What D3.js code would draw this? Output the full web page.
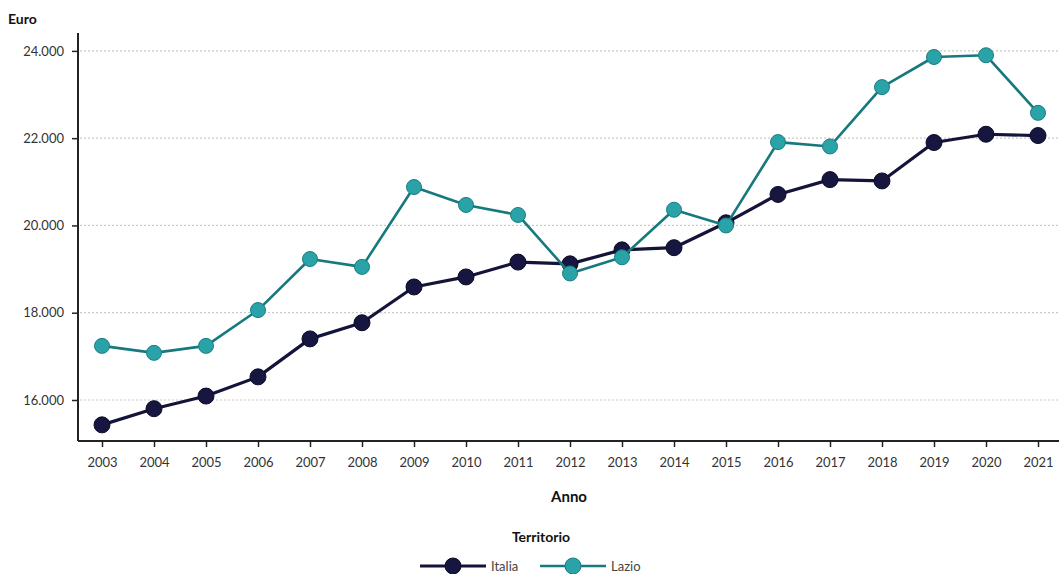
<!DOCTYPE html>
<html>
<head>
<meta charset="utf-8">
<script src="https://cdn.jsdelivr.net/npm/d3@7"></script>
<style>
  html, body { margin: 0; padding: 0; background: #ffffff; }
  svg { display: block; font-family: "Lato", "Open Sans", sans-serif; }
</style>
</head>
<body>
<svg id="chart" width="1059" height="574"></svg>
<script>
// Reddito medio per anno: Italia e Lazio (euro)
const years = [2003, 2004, 2005, 2006, 2007, 2008, 2009, 2010, 2011, 2012,
               2013, 2014, 2015, 2016, 2017, 2018, 2019, 2020, 2021];
const italia = [15430, 15800, 16090, 16530, 17400, 17770, 18590, 18820, 19160, 19120,
                19440, 19490, 20060, 20710, 21050, 21020, 21900, 22090, 22060];
const lazio = [17240, 17080, 17240, 18060, 19230, 19050, 20880, 20470, 20240, 18900,
               19270, 20360, 20000, 21910, 21810, 23170, 23860, 23900, 22580];
const yTicks = [16000, 18000, 20000, 22000, 24000];
const seriesNames = ["Italia", "Lazio"];

const colors = {
  Italia: { line: "#14133a", fill: "#171640", stroke: "#0c0b26", width: 3.2, r: 8 },
  Lazio:  { line: "#17797d", fill: "#2aa3a8", stroke: "#1a7e83", width: 2.6, r: 7.5 }
};

const svg = d3.select("#chart");
const plotLeft = 78, plotRight = 1038, plotTop = 33, plotBottom = 441;

const x = d3.scalePoint().domain(years).range([102, plotRight]);
const y = d3.scaleLinear().domain([15060, 24410]).range([plotBottom, plotTop]);
const itFmt = d => d3.format(",")(d).replace(",", ".");

// horizontal dotted gridlines
svg.append("g")
  .selectAll("line")
  .data(yTicks)
  .join("line")
  .attr("x1", plotLeft + 2).attr("x2", 1059)
  .attr("y1", d => y(d)).attr("y2", d => y(d))
  .attr("stroke", "#c9c9c9")
  .attr("stroke-width", 1.2)
  .attr("stroke-dasharray", "2,2");

// y axis
const yAxis = svg.append("g")
  .attr("transform", `translate(${plotLeft},0)`)
  .call(d3.axisLeft(y).tickValues(yTicks).tickSize(6).tickPadding(8).tickFormat(itFmt));
yAxis.select(".domain").attr("stroke", "#222").attr("stroke-width", 2)
  .attr("d", `M0,${plotTop}V${plotBottom}`);
yAxis.selectAll(".tick line").attr("stroke", "#222").attr("stroke-width", 1.5);
yAxis.selectAll(".tick text").attr("fill", "#333").style("font-size", "13px")
  .style("font-family", "Lato, sans-serif");

// x axis
const xAxis = svg.append("g")
  .attr("transform", `translate(0,${plotBottom})`)
  .call(d3.axisBottom(x).tickSize(6).tickPadding(11));
xAxis.select(".domain").attr("stroke", "#222").attr("stroke-width", 2)
  .attr("d", `M${plotLeft},0H1059`);
xAxis.selectAll(".tick line").attr("stroke", "#222").attr("stroke-width", 1.5);
xAxis.selectAll(".tick text").attr("fill", "#333").style("font-size", "13px")
  .style("font-family", "Lato, sans-serif");

// titles
svg.append("text").attr("x", 8).attr("y", 24).text("Euro")
  .attr("font-weight", "bold").attr("font-size", 14).attr("fill", "#111");
svg.append("text").attr("x", 569).attr("y", 502).text("Anno")
  .attr("text-anchor", "middle").attr("font-weight", "bold").attr("font-size", 15).attr("fill", "#111");
svg.append("text").attr("x", 541).attr("y", 542).text("Territorio")
  .attr("text-anchor", "middle").attr("font-weight", "bold").attr("font-size", 14).attr("fill", "#111");

// series
const data = { Italia: italia, Lazio: lazio };
const line = d3.line().x((d, i) => x(years[i])).y(d => y(d));

seriesNames.forEach(name => {
  const c = colors[name];
  const g = svg.append("g");
  g.append("path")
    .datum(data[name])
    .attr("d", line)
    .attr("fill", "none")
    .attr("stroke", c.line)
    .attr("stroke-width", c.width)
    .attr("stroke-linejoin", "round");
  g.selectAll("circle")
    .data(data[name])
    .join("circle")
    .attr("cx", (d, i) => x(years[i]))
    .attr("cy", d => y(d))
    .attr("r", c.r)
    .attr("fill", c.fill)
    .attr("stroke", c.stroke)
    .attr("stroke-width", 1);
});

// legend
const legendItems = [
  { name: "Italia", x0: 420 },
  { name: "Lazio", x0: 540 }
];
const lg = svg.append("g");
legendItems.forEach(it => {
  const c = colors[it.name];
  lg.append("line").attr("x1", it.x0).attr("x2", it.x0 + 66)
    .attr("y1", 566).attr("y2", 566)
    .attr("stroke", c.line).attr("stroke-width", c.width);
  lg.append("circle").attr("cx", it.x0 + 33).attr("cy", 566).attr("r", 8)
    .attr("fill", c.fill).attr("stroke", c.stroke);
  lg.append("text").attr("x", it.x0 + 71).attr("y", 571).text(it.name)
    .attr("font-size", 13).attr("fill", "#444");
});
</script>
</body>
</html>
